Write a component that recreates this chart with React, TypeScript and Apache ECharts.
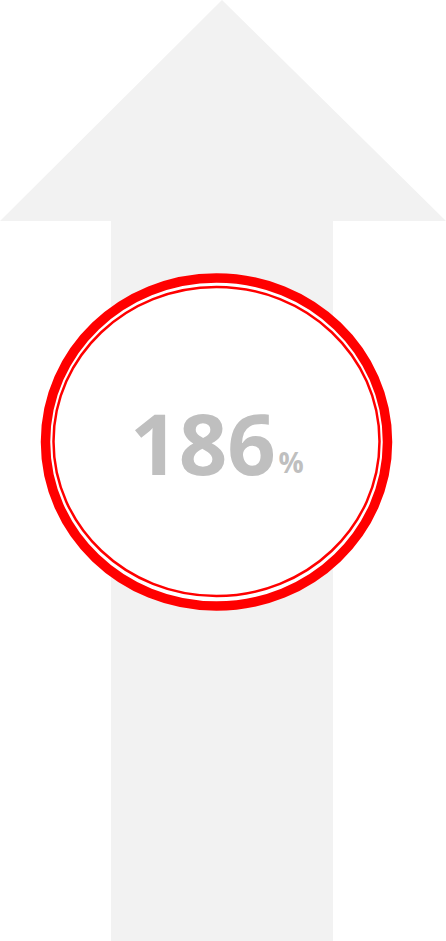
import React, { useEffect, useRef } from "react";
import * as echarts from "echarts";

const metricNames: string[] = ["增长率"];
const metricValues: number[] = [186];
const unitLabels: string[] = ["%"];

export default function App() {
  const ref = useRef<HTMLDivElement>(null);
  useEffect(() => {
    if (!ref.current) return;
    const chart = echarts.init(ref.current, null, { renderer: "svg" });
    const value = metricValues[0];
    chart.setOption({
      animation: false,
      backgroundColor: "#ffffff",
      graphic: [
        {
          type: "polygon",
          silent: true,
          shape: {
            points: [
              [222, 0],
              [446, 221],
              [333, 221],
              [333, 941],
              [111, 941],
              [111, 221],
              [0, 221],
            ],
          },
          style: { fill: "#f2f2f2" },
        },
        {
          type: "ellipse",
          shape: { cx: 216.5, cy: 442, rx: 171, ry: 164 },
          style: { fill: "#ffffff", stroke: "#ff0000", lineWidth: 9.5 },
        },
        {
          type: "ellipse",
          shape: { cx: 216.5, cy: 441.5, rx: 163, ry: 154.5 },
          style: { fill: "none", stroke: "#ff0000", lineWidth: 2.5 },
        },
        {
          type: "text",
          x: 203,
          y: 442,
          style: {
            text: String(value),
            fill: "#bfbfbf",
            font: "bold 85px 'Open Sans', sans-serif",
            textAlign: "center",
            textVerticalAlign: "middle",
          },
        },
        {
          type: "text",
          x: 291,
          y: 461.5,
          style: {
            text: unitLabels[0],
            fill: "#bfbfbf",
            font: "bold 28px 'Open Sans', sans-serif",
            textAlign: "center",
            textVerticalAlign: "middle",
          },
        },
      ],
      series: [],
    });
    return () => chart.dispose();
  }, []);
  return (
    <div
      ref={ref}
      aria-label={metricNames[0]}
      style={{ position: "absolute", left: 0, top: 0, width: 446, height: 941 }}
    />
  );
}
